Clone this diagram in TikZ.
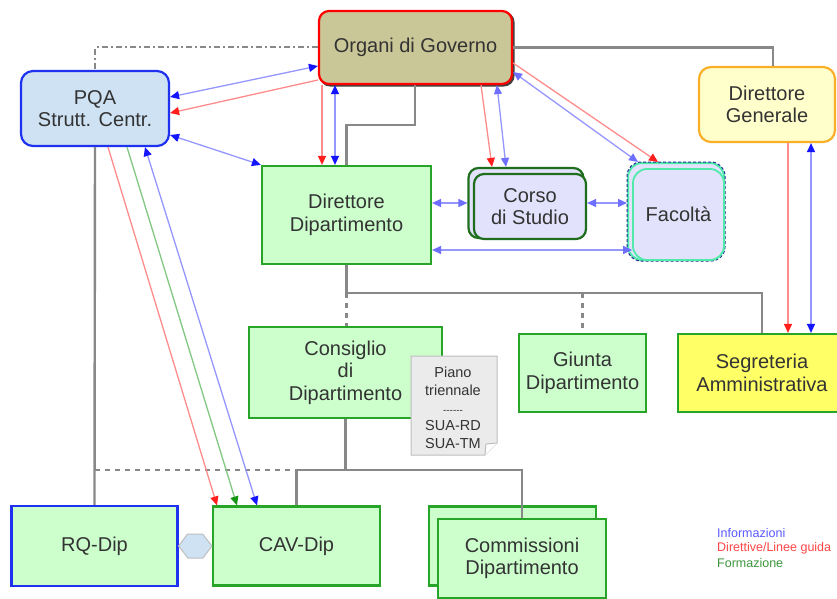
\documentclass[tikz,border=0pt]{standalone}
\usepackage{fontspec}
\setmainfont{Liberation Sans}
\usetikzlibrary{arrows.meta,calc}
\definecolor{txt}{RGB}{51,51,51}
\definecolor{orgfill}{RGB}{201,199,151}
\definecolor{pqafill}{RGB}{207,226,243}
\definecolor{pqaline}{RGB}{30,50,240}
\definecolor{gfill}{RGB}{204,255,204}
\definecolor{cgl}{RGB}{40,165,40}
\definecolor{lav}{RGB}{226,226,252}
\definecolor{dkgreen}{RGB}{30,110,30}
\definecolor{aqua}{RGB}{80,235,170}
\definecolor{navy}{RGB}{40,40,150}
\definecolor{dgfill}{RGB}{255,255,204}
\definecolor{dgline}{RGB}{250,175,40}
\definecolor{segfill}{RGB}{255,255,102}
\definecolor{lgray}{RGB}{136,136,136}
\definecolor{docfill}{RGB}{235,235,235}
\definecolor{docline}{RGB}{190,190,190}
\definecolor{pblue}{RGB}{150,150,255}
\definecolor{pred}{RGB}{255,140,140}
\definecolor{pgreen}{RGB}{130,200,130}
\definecolor{tblue}{RGB}{20,20,255}
\definecolor{tpblue}{RGB}{110,110,255}
\definecolor{tred}{RGB}{255,30,30}
\definecolor{tgreen}{RGB}{20,150,20}
\definecolor{legblue}{RGB}{90,90,255}
\definecolor{legred}{RGB}{255,70,70}
\definecolor{leggreen}{RGB}{60,150,60}
\tikzset{
  bt/.tip={Triangle[length=9pt,width=8pt,color=tblue]},
  pbt/.tip={Triangle[length=9pt,width=8pt,color=tpblue]},
  rt/.tip={Triangle[length=9pt,width=8pt,color=tred]},
  gt/.tip={Triangle[length=9pt,width=8pt,color=tgreen]},
  box/.style={rectangle, draw=cgl, line width=2.2pt, fill=gfill, text=txt,
    align=center, font=\fontsize{20}{22.5}\selectfont, inner sep=0pt},
  gl/.style={draw=lgray, line width=2.4pt},
  gdash/.style={gl, dash pattern=on 5pt off 5pt},
  gdot/.style={draw=lgray, line width=2pt, dash pattern=on 6pt off 3pt on 2pt off 3pt},
  binfo/.style={draw=pblue, line width=1.3pt, bt-bt},
  pinfo/.style={draw=pblue, line width=1.3pt, pbt-pbt},
  rdir/.style={draw=pred, line width=1.3pt, -rt},
  gform/.style={draw=pgreen, line width=1.3pt, -gt},
  legend/.style={anchor=west, font=\fontsize{12.5}{15}\selectfont, inner sep=0pt}
}
\begin{document}
\begin{tikzpicture}[x=1pt,y=-1pt]
\useasboundingbox (0,0) rectangle (837,599);
\clip (0,0) rectangle (837,599);
\fill[white] (0,0) rectangle (837,599);
% helper coordinates
\coordinate (h63) at (0,63);
\coordinate (h66) at (0,66);
\coordinate (h72) at (0,72);
\coordinate (h80) at (0,80);
\coordinate (h97) at (0,97);
\coordinate (h113) at (0,113);
\coordinate (h125) at (0,125);
\coordinate (h135) at (0,135);
\coordinate (h203) at (0,203);
\coordinate (h250) at (0,250);
\coordinate (h470) at (0,470);
\coordinate (v108) at (108,0);
\coordinate (v127) at (127,0);
\coordinate (v145) at (145,0);
\coordinate (v217) at (217,0);
\coordinate (v237) at (237,0);
\coordinate (v257) at (257,0);
\coordinate (v322) at (322,0);
\coordinate (v335) at (335,0);
\coordinate (v415) at (415,0);
\coordinate (v481) at (481,0);
\coordinate (v492) at (492,0);
\coordinate (v497) at (497,0);
\coordinate (v506) at (506,0);
\coordinate (v638) at (638,0);
\coordinate (v658) at (658,0);
\coordinate (v773) at (773,0);
\coordinate (v788) at (788,0);
\coordinate (v811) at (811,0);
% nodes
\node[box, rounded corners=10pt, draw=darkgray, fill=orgfill, minimum width=193pt, minimum height=73pt] (orgsh) at (417,49) {};
\node[box, rounded corners=10pt, draw=red, fill=orgfill, minimum width=193pt, minimum height=73pt] (org) at (415.5,47.5) {Organi di Governo};
\node[box, rounded corners=12pt, draw=pqaline, fill=pqafill, minimum width=148pt, minimum height=75pt] (pqa) at (95,108.5) {PQA\\Strutt. Centr.};
\node[box, rounded corners=12pt, draw=dgline, fill=dgfill, minimum width=136pt, minimum height=75pt] (dg) at (767,104.5) {Direttore\\Generale};
\node[box, minimum width=169pt, minimum height=98pt] (dd) at (346.5,215) {Direttore\\Dipartimento};
\node[box, rounded corners=10pt, draw=dkgreen, fill=lav, minimum width=115pt, minimum height=70pt] (csb) at (526,203) {};
\node[box, rounded corners=10pt, draw=dkgreen, fill=lav, minimum width=112pt, minimum height=65pt] (csf) at (530,206.5) {Corso\\di Studio};
\node[box, rounded corners=14pt, draw=aqua, fill=lav, line width=2pt, minimum width=96pt, minimum height=97pt] (fac) at (676,211.5) {};
\draw[navy, line width=1pt, dash pattern=on 3pt off 2pt, rounded corners=14pt] (fac.south west) rectangle (fac.north east);
\node[box, rounded corners=14pt, draw=aqua, fill=lav, line width=1.8pt, minimum width=91pt, minimum height=91pt] (facf) at (678.5,214.5) {Facoltà};
\node[box, minimum width=193pt, minimum height=91pt] (cons) at (345.5,372.5) {Consiglio\\di\\Dipartimento};
\draw[draw=docline, fill=docfill, line width=1pt] (411,356) -- (497,356) -- (497,443) -- (485,455) -- (411,455) -- cycle;
\draw[draw=docline, fill=white, line width=1pt] (497,443) -- (486,444) -- (485,455);
\node[align=center, text=txt, font=\fontsize{14.5}{17.8}\selectfont, inner sep=0pt] (piano) at (453,408) {Piano\\triennale\\{\fontsize{10}{12}\selectfont -{}-{}-{}-{}-{}-}\\SUA-RD\\SUA-TM};
\node[box, minimum width=127pt, minimum height=78pt] (giu) at (582.5,373) {Giunta\\Dipartimento};
\node[box, fill=segfill, minimum width=168pt, minimum height=78pt] (seg) at (762,373) {Segreteria\\Amministrativa};
\node[box, draw=pqaline, minimum width=166pt, minimum height=80pt] (rq) at (94.5,546) {RQ-Dip};
\node[box, minimum width=167pt, minimum height=79pt] (cav) at (296.5,546) {CAV-Dip};
\node[box, minimum width=167pt, minimum height=79pt] (comb) at (512.5,546) {};
\node[box, minimum width=168pt, minimum height=79pt] (com) at (522,558.5) {Commissioni\\Dipartimento};
\coordinate (j1) at (346.5,293);
\coordinate (j2) at (cons.south |- h470);
% gray hierarchy
\draw[gl] (org.east) -| (dg.north -| v773);
\draw[gl] (org.south -| v415) |- (dd.north |- h125) -- (dd.north);
\draw[gl] (dd.south) -- (j1) -| (seg.north);
\draw[gdash] (j1) -- (j1 |- cons.north);
\draw[gdash] (giu.north |- j1) -- (giu.north);
\draw[gl] (cons.south) -- (j2);
\draw[gl] (cav.north) |- (j2) -| (com.north);
\draw[gdash] (pqa.south |- h470) -- (cav.north |- h470);
\draw[gl] (pqa.south) -- (rq.north);
\draw[gdot] (org.west) -| (pqa.north);
% hexagon link
\draw[draw=docline, fill=pqafill, line width=1pt] (rq.east) -- ++(9,-12) -- ++(15,0) -- (cav.west) -- ++(-9,12) -- ++(-15,0) -- cycle;
% coloured arrows
\draw[binfo] (org.west |- h66) -- (pqa.east |- h97);
\draw[rdir] (org.west |- h80) -- (pqa.east |- h113);
\draw[binfo] (pqa.east |- h135) -- (dd.north west);
\draw[rdir] (org.south -| v322) -- (dd.north -| v322);
\draw[binfo] (org.south -| v335) -- (dd.north -| v335);
\draw[rdir] (org.south -| v481) -- (csb.north -| v492);
\draw[pinfo] (org.south -| v497) -- (csb.north -| v506);
\draw[rdir] (org.east |- h63) -- (fac.north -| v658);
\draw[pinfo] (org.east |- h72) -- (fac.north -| v638);
\draw[pinfo] (dd.east |- h203) -- (csb.west |- h203);
\draw[pinfo] (csf.east |- h203) -- (fac.west |- h203);
\draw[pinfo] (dd.east |- h250) -- (facf.west |- h250);
\draw[rdir] (dg.south -| v788) -- (seg.north -| v788);
\draw[binfo] (dg.south -| v811) -- (seg.north -| v811);
\draw[rdir] (pqa.south -| v108) -- (cav.north -| v217);
\draw[gform] (pqa.south -| v127) -- (cav.north -| v237);
\draw[binfo] (pqa.south -| v145) -- (cav.north -| v257);
% legend
\node[legend, text=legblue] (leg1) at (717,533) {Informazioni};
\node[legend, text=legred] (leg2) at (717,548) {Direttive/Linee guida};
\node[legend, text=leggreen] (leg3) at (717,563) {Formazione};
\end{tikzpicture}
\end{document}
